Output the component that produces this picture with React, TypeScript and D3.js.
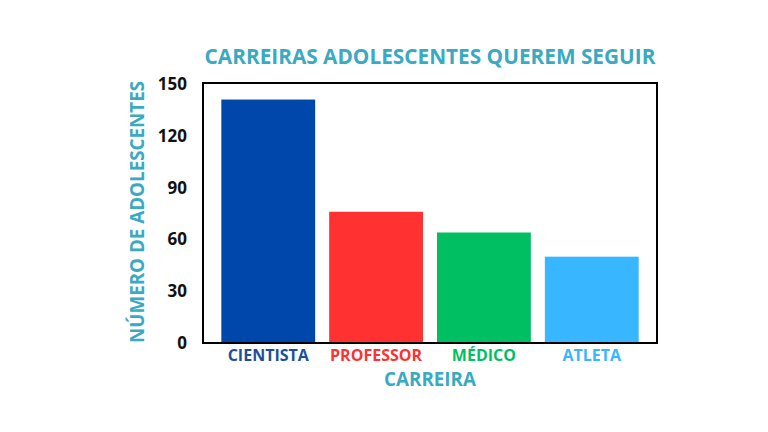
import React from "react";
import * as d3 from "d3";

const categories = ["CIENTISTA", "PROFESSOR", "MÉDICO", "ATLETA"];
const values = [141, 76, 64, 50];
const colors = ["#0047AB", "#FF3131", "#00BF63", "#38B6FF"];
const yTicks = [0, 30, 60, 90, 120, 150];

const W = 768, H = 432;
const left = 203, right = 657, top = 84, bottom = 343;
const teal = "#3AA9C2";
const font = "'Open Sans', sans-serif";

export default function App() {
  const x = d3.scaleBand<string>().domain(categories).range([left, right]).paddingInner(0.13).paddingOuter(0.17);
  const y = d3.scaleLinear().domain([0, 150]).range([bottom, top]);
  return (
    <svg width={W} height={H} style={{ position: "absolute", left: 0, top: 0, background: "#fff" }} fontFamily={font}>
      <rect x={0} y={0} width={W} height={H} fill="#fff" />
      <text x={430} y={64} textAnchor="middle" fontSize={20.8} fontWeight={700} fill={teal}>CARREIRAS ADOLESCENTES QUEREM SEGUIR</text>
      {categories.map((c, i) => (
        <rect key={c} x={x(c)} y={y(values[i])} width={x.bandwidth()} height={y(0) - y(values[i])} fill={colors[i]} />
      ))}
      <rect x={left} y={y(150) - 1} width={right - left} height={bottom - y(150) + 1} fill="none" stroke="#000" strokeWidth={2} />
      {yTicks.map(t => (
        <text key={t} x={187} y={y(t)} dy="0.35em" textAnchor="end" fontSize={17} fontWeight={700} fill="#111">{t}</text>
      ))}
      {categories.map((c, i) => (
        <text key={c} x={(x(c) as number) + x.bandwidth() / 2} y={361} textAnchor="middle" fontSize={16} fontWeight={700} fill={i === 0 ? "#1B4F9C" : colors[i]}>{c}</text>
      ))}
      <text x={430} y={386} textAnchor="middle" fontSize={18.8} fontWeight={700} fill={teal}>CARREIRA</text>
      <text transform={`translate(144,212) rotate(-90)`} textAnchor="middle" fontSize={18.8} fontWeight={700} fill={teal}>NÚMERO DE ADOLESCENTES</text>
    </svg>
  );
}
